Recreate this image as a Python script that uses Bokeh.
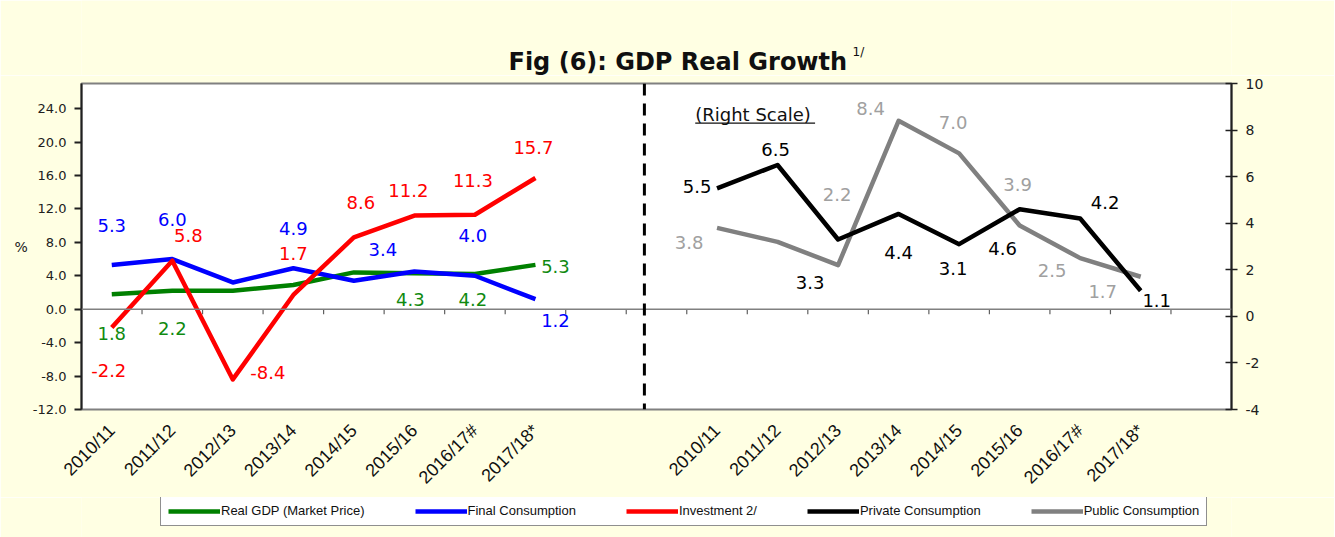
import math
from bokeh.plotting import figure
from bokeh.layouts import column
from bokeh.models import (Range1d, LinearAxis, FixedTicker, PrintfTickFormatter, ColumnDataSource,
                          Span, Label, BoxAnnotation, Legend, LegendItem)
from bokeh.embed import file_html
from bokeh.resources import INLINE
from bokeh.core.properties import value

# ---------------- data ----------------
years = ["2010/11", "2011/12", "2012/13", "2013/14", "2014/15", "2015/16", "2016/17#", "2017/18*"]

gdp = [1.8, 2.2, 2.2, 2.9, 4.4, 4.3, 4.2, 5.3]
gdp_lbl = ["1.8", "2.2", "", "", "", "4.3", "4.2", "5.3"]
final_cons = [5.3, 6.0, 3.2, 4.9, 3.4, 4.5, 4.0, 1.2]
final_lbl = ["5.3", "6.0", "", "4.9", "3.4", "", "4.0", "1.2"]
investment = [-2.2, 5.8, -8.4, 1.7, 8.6, 11.2, 11.3, 15.7]
invest_lbl = ["-2.2", "5.8", "-8.4", "1.7", "8.6", "11.2", "11.3", "15.7"]
private_cons = [5.5, 6.5, 3.3, 4.4, 3.1, 4.6, 4.2, 1.1]
private_lbl = ["5.5", "6.5", "3.3", "4.4", "3.1", "4.6", "4.2", "1.1"]
public_cons = [3.8, 3.2, 2.2, 8.4, 7.0, 3.9, 2.5, 1.7]
public_lbl = ["3.8", "", "2.2", "8.4", "7.0", "3.9", "2.5", "1.7"]

series_names = ["Real GDP (Market Price)", "Final Consumption", "Investment 2/",
                "Private Consumption", "Public Consumption"]

left_ticks = [-12, -8, -4, 0, 4, 8, 12, 16, 20, 24]
right_ticks = [-4, -2, 0, 2, 4, 6, 8, 10]

# label placement (screen px offsets, +dy = down)
gdp_dx = [0, 0, 0, 0, 0, -4, -2, 20]
gdp_dy = [39, 38, 0, 0, 0, 26, 25, 2]
fin_dx = [0, 0, 0, 0, 29, 0, -2, 20]
fin_dy = [-39, -40, 0, -40, -31, 0, -40, 21]
inv_dx = [-3, 16, 35, 0, 7, -6, -2, -2]
inv_dy = [43, -25, -7, -41, -35, -25, -34, -30]
pri_dx = [-20, -2, -28, 0, -6, -17, 25, 16]
pri_dy = [-2, -16, 43, 39, 24, 39, -16, 10]
pub_dx = [-28, 0, -1, -28, -6, -2, -28, -38]
pub_dy = [15, 0, -71, -12, -31, -41, 12, 15]

# ---------------- layout of category slots ----------------
n = len(years)
gap = 2
left_x = list(range(n))
right_x = [i + n + gap for i in range(n)]
n_slots = 2 * n + gap + 1

FONT = "DejaVu Sans"
BG = "#FFFFE3"
W = 1334
FL, FR = 81, 1231          # frame left / right edge on the page
COLORS = ["#008000", "#0000FF", "#FF0000", "#000000", "#808080"]

# ---------------- header (title) ----------------
HH = 75
header = figure(width=W, height=HH, output_backend="svg", toolbar_location=None,
                x_range=Range1d(FL, FR), y_range=Range1d(0, HH),
                x_axis_type=None, y_axis_type=None, min_border=0)
header.outline_line_color = None
header.grid.visible = False
header.background_fill_color = BG
header.border_fill_color = BG
header.add_layout(Label(x=508, y=14, text="Fig (6): GDP Real Growth", text_align="left",
                        text_baseline="alphabetic", text_font=FONT, text_font_size="24px",
                        text_font_style="bold", text_color="#101010"))
header.add_layout(Label(x=852, y=24, text="1/", text_align="left", text_baseline="alphabetic",
                        text_font=FONT, text_font_size="12px", text_color="#101010"))

# ---------------- main chart ----------------
p = figure(width=W, height=422, output_backend="svg", toolbar_location=None,
           x_range=Range1d(-0.5, n_slots - 0.5), y_range=Range1d(-12, 27),
           min_border_left=FL, min_border_top=8, min_border_right=W - FR, min_border_bottom=88)
p.extra_y_ranges = {"right": Range1d(-4, 10)}
p.background_fill_color = "white"
p.border_fill_color = BG
p.outline_line_color = "#808080"
p.outline_line_width = 2
p.grid.visible = False

ya = p.yaxis[0]
ya.ticker = FixedTicker(ticks=left_ticks)
ya.formatter = PrintfTickFormatter(format="%.1f")
ya.axis_line_color = "#202020"
ya.axis_line_width = 2
ya.major_tick_in = 0
ya.major_tick_out = 7
ya.major_tick_line_color = "#202020"
ya.major_tick_line_width = 2
ya.minor_tick_line_color = None
ya.major_label_standoff = 8
ya.major_label_text_font = FONT
ya.major_label_text_font_size = "13px"
ya.major_label_text_color = "#202020"
ya.axis_label = "%"
ya.axis_label_orientation = "horizontal"
ya.axis_label_standoff = 2
ya.axis_label_text_font = FONT
ya.axis_label_text_font_style = "normal"
ya.axis_label_text_font_size = "14px"
ya.axis_label_text_color = "#202020"

ra = LinearAxis(y_range_name="right", ticker=FixedTicker(ticks=right_ticks),
                formatter=PrintfTickFormatter(format="%d"))
ra.axis_line_color = "#202020"
ra.axis_line_width = 2
ra.major_tick_in = 6
ra.major_tick_out = 6
ra.major_tick_line_color = "#202020"
ra.major_tick_line_width = 1.5
ra.minor_tick_line_color = None
ra.major_label_standoff = 8
ra.major_label_text_font = FONT
ra.major_label_text_font_size = "14px"
ra.major_label_text_color = "#202020"
p.add_layout(ra, "right")

xa = p.xaxis[0]
xa.ticker = FixedTicker(ticks=left_x + right_x)
xa.major_label_overrides = {x: y for x, y in zip(left_x + right_x, years + years)}
xa.major_label_orientation = math.pi / 4
xa.axis_line_color = None
xa.major_tick_line_color = None
xa.minor_tick_line_color = None
xa.major_label_standoff = 12
xa.major_label_text_font = "Liberation Sans"
xa.major_label_text_font_size = "18px"
xa.major_label_text_color = "#101010"

# zero line with category-boundary ticks
p.add_layout(Span(location=0, dimension="width", line_color="#808080", line_width=1.5))
bounds = [i + 0.5 for i in range(n_slots - 1)]
p.segment(x0=bounds, x1=bounds, y0=[0] * len(bounds), y1=[-0.6] * len(bounds),
          line_color="#606060", line_width=1.2)

# divider between the two scales
p.add_layout(Span(location=n + 0.8, dimension="height", line_color="black",
                  line_width=3, line_dash="12 8"))

def series(xs, ys, lbls, dx, dy, color, lcolor, yname="default"):
    src = ColumnDataSource(dict(x=xs, y=ys, lbl=lbls, dx=dx, dy=dy))
    p.line("x", "y", source=src, line_color=color, line_width=4.5, line_join="round",
           y_range_name=yname)
    p.text("x", "y", text="lbl", x_offset="dx", y_offset="dy", source=src,
           text_font=value(FONT), text_font_size="18px", text_color=lcolor,
           text_align="center", text_baseline="middle", y_range_name=yname)

series(left_x, gdp, gdp_lbl, gdp_dx, gdp_dy, COLORS[0], "#108a10")
series(left_x, final_cons, final_lbl, fin_dx, fin_dy, COLORS[1], "#0000FF")
series(left_x, investment, invest_lbl, inv_dx, inv_dy, COLORS[2], "#FF0000")
series(right_x, public_cons, public_lbl, pub_dx, pub_dy, COLORS[4], "#A0A0A0", "right")
series(right_x, private_cons, private_lbl, pri_dx, pri_dy, COLORS[3], "#000000", "right")

p.add_layout(Label(x=n + gap - 0.36, y=8.66, y_range_name="right", text="(Right Scale)",
                   text_align="left", text_baseline="alphabetic",
                   text_font=FONT, text_font_size="18px", text_color="#101010"))
p.add_layout(BoxAnnotation(left=n + gap - 0.36, right=n + gap + 1.62, bottom=8.27, top=8.33,
                           y_range_name="right",
                           fill_color="#101010", fill_alpha=1, line_color=None))

# ---------------- legend strip ----------------
LH = 40
lf = figure(width=W, height=LH, output_backend="svg", toolbar_location=None,
            x_range=Range1d(FL, FR), y_range=Range1d(0, LH),
            x_axis_type=None, y_axis_type=None, min_border=0)
lf.outline_line_color = None
lf.grid.visible = False
lf.background_fill_color = BG
lf.border_fill_color = BG
items = []
for name, col in zip(series_names, COLORS):
    r = lf.line(x=[FL - 20, FL - 10], y=[-20, -20], line_color=col, line_width=4.5)
    items.append(LegendItem(label=name, renderers=[r]))
legend = Legend(items=items, orientation="horizontal", location=(160 - FL, 11))
legend.border_line_color = "#202020"
legend.border_line_width = 1
legend.background_fill_color = "white"
legend.background_fill_alpha = 1
legend.label_text_font = "Liberation Sans"
legend.label_text_font_size = "13px"
legend.label_text_color = "#101010"
legend.glyph_width = 52
legend.glyph_height = 14
legend.label_standoff = 1
legend.spacing = 50
legend.padding = 7
legend.margin = 0
lf.add_layout(legend)

layout = column(header, p, lf, spacing=0)
open("out.html", "w").write(file_html(layout, INLINE))
